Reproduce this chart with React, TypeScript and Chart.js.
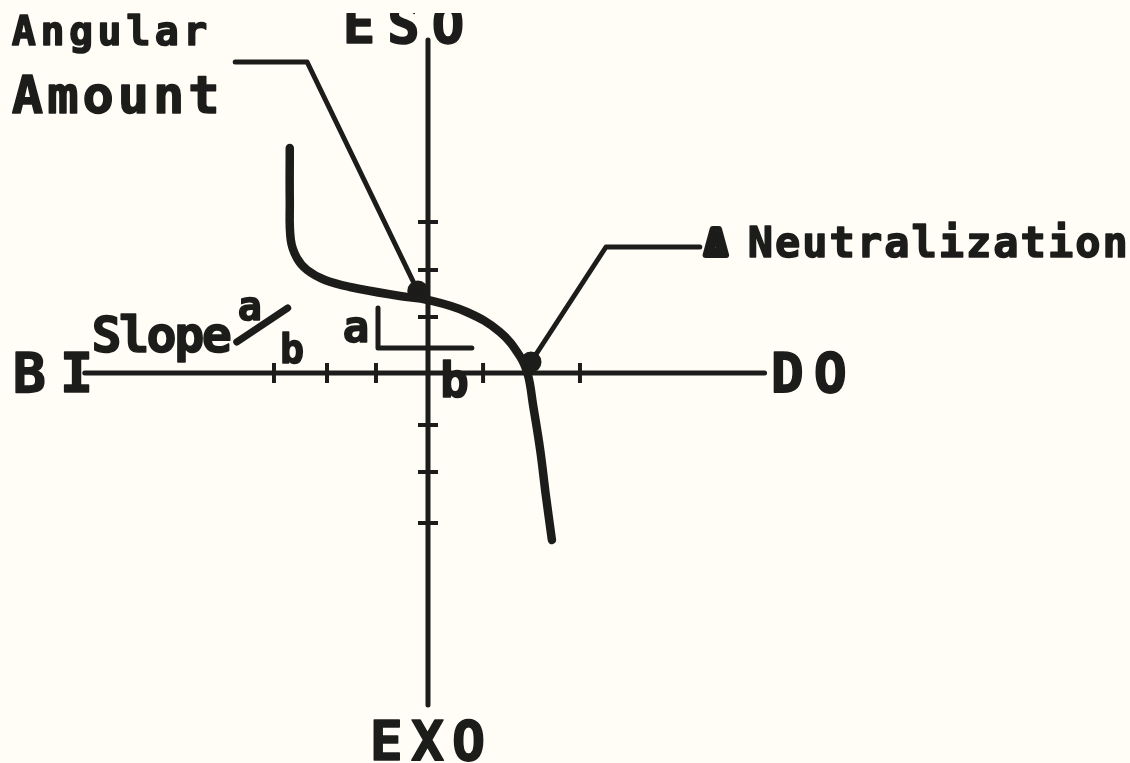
import React, { useEffect, useRef } from "react";
import { Chart, registerables } from "chart.js";

Chart.register(...registerables);

const INK = "#1c1c1a";
const PAPER = "#fffdf6";

// Response curve (units: one tick = 1)
const curveX = [-2.71, -2.71, -2.69, -2.57, -2.37, -2.02, -1.53, -0.55, 0, 0.76, 1.41, 1.8, 1.96, 2.06, 2.2, 2.31, 2.43];
const curveY = [4.5, 3.46, 2.66, 2.3, 2.06, 1.86, 1.72, 1.54, 1.46, 1.22, 0.82, 0.34, -0.04, -0.64, -1.54, -2.44, -3.34];

// Axis extents
const xAxisX = [-6.73, 6.6];
const xAxisY = [0, 0];
const yAxisX = [0, 0];
const yAxisY = [6.66, -6.64];

// Tick marks
const xTicks = [-3.02, -1.98, -1.02, 1.08, 2.0, 2.98];
const yTicks = [3.02, 2.06, 1.12, -1.04, -1.98, -3.0];

// Leader lines
const angularX = [-3.78, -2.37, -0.2];
const angularY = [6.22, 6.22, 1.64];
const neutralX = [5.33, 3.49, 2.02];
const neutralY = [2.52, 2.52, 0.22];

// Slope triangle and fraction slash
const slopeLX = [-0.98, -0.98, 0.86];
const slopeLY = [1.3, 0.5, 0.5];
const slashX = [-3.75, -2.75];
const slashY = [0.62, 1.3];

// Text labels
const labelText = ["Angular", "Amount", "ESO", "EXO", "BI", "DO", "Slope", "a", "b", "a", "b", "Δ", "Neutralization"];
const labelX = [-8.16, -8.16, -1.67, -1.14, -8.14, 6.72, -6.6, -3.73, -2.9, -1.67, 0.235, 5.43, 6.27];
const labelY = [6.56, 5.2, 6.6, -7.74, -0.38, -0.38, 0.42, 1.06, 0.2, 0.62, -0.48, 2.36, 2.32];
const labelSize = [40, 52, 54, 55, 55, 55, 50, 40, 40, 44, 48, 36, 42];
const labelSpacing = [4.5, 4, 12, 8, 14, 10, -2.5, 0, 0, 0, 0, 0, 2];

const pts = (xs: number[], ys: number[]) => xs.map((x, i) => ({ x, y: ys[i] }));

const labelPlugin = {
  id: "labels",
  afterDatasetsDraw(chart: any) {
    const { ctx, scales } = chart;
    ctx.save();
    ctx.fillStyle = INK;
    ctx.strokeStyle = INK;
    ctx.textAlign = "left";
    ctx.textBaseline = "alphabetic";
    labelText.forEach((t, i) => {
      const px = scales.x.getPixelForValue(labelX[i]);
      const py = scales.y.getPixelForValue(labelY[i]);
      ctx.save();
      if (t === "ESO") {
        ctx.beginPath();
        ctx.rect(0, 13, chart.width, chart.height);
        ctx.clip();
      }
      ctx.font = `bold ${labelSize[i]}px "DejaVu Sans Mono", monospace`;
      try {
        (ctx as any).letterSpacing = `${labelSpacing[i]}px`;
      } catch (e) {}
      ctx.lineJoin = "round";
      ctx.lineWidth = t === "Δ" ? 6 : 1.5;
      ctx.strokeText(t, px, py);
      ctx.fillText(t, px, py);
      ctx.restore();
    });
    ctx.restore();
  },
};

const paperPlugin = {
  id: "paper",
  beforeDraw(chart: any) {
    const { ctx } = chart;
    ctx.save();
    ctx.fillStyle = PAPER;
    ctx.fillRect(0, 0, chart.width, chart.height);
    ctx.restore();
  },
};

export default function App() {
  const ref = useRef<HTMLCanvasElement | null>(null);

  useEffect(() => {
    document.body.style.margin = "0";
    document.body.style.background = PAPER;
    if (!ref.current) return;
    const line = (data: any, width: number, extra: any = {}) => ({
      data,
      showLine: true,
      borderColor: INK,
      borderWidth: width,
      pointRadius: 0,
      tension: 0,
      borderCapStyle: "round",
      borderJoinStyle: "round",
      fill: false,
      ...extra,
    });
    const chart = new Chart(ref.current, {
      type: "scatter",
      data: {
        datasets: [
          line(pts(xAxisX, xAxisY), 5),
          line(pts(yAxisX, yAxisY), 5),
          {
            data: xTicks.map((x) => ({ x, y: 0 })),
            showLine: false,
            pointStyle: "line",
            rotation: 90,
            pointRadius: 10,
            pointBorderWidth: 4,
            pointBorderColor: INK,
            pointBackgroundColor: INK,
          },
          {
            data: yTicks.map((y) => ({ x: 0, y })),
            showLine: false,
            pointStyle: "line",
            rotation: 0,
            pointRadius: 10,
            pointBorderWidth: 4,
            pointBorderColor: INK,
            pointBackgroundColor: INK,
          },
          line(pts(curveX, curveY), 8.5, { tension: 0.4 }),
          line(pts(angularX, angularY), 5, {
            pointRadius: [0, 0, 8],
            pointBackgroundColor: INK,
            pointBorderColor: INK,
          }),
          line(pts(neutralX, neutralY), 5, {
            pointRadius: [0, 0, 8],
            pointBackgroundColor: INK,
            pointBorderColor: INK,
          }),
          line(pts(slopeLX, slopeLY), 5),
          line(pts(slashX, slashY), 7),
        ],
      },
      options: {
        animation: false,
        responsive: false,
        maintainAspectRatio: false,
        layout: { padding: 0, autoPadding: false },
        events: [],
        plugins: { legend: { display: false }, tooltip: { enabled: false } },
        scales: {
          x: { type: "linear", display: false, min: -8.392, max: 13.765 },
          y: { type: "linear", display: false, min: -7.8, max: 7.46 },
        },
      },
      plugins: [paperPlugin, labelPlugin],
    } as any);
    return () => chart.destroy();
  }, []);

  return <canvas ref={ref} width={1130} height={763} style={{ display: "block" }} />;
}
